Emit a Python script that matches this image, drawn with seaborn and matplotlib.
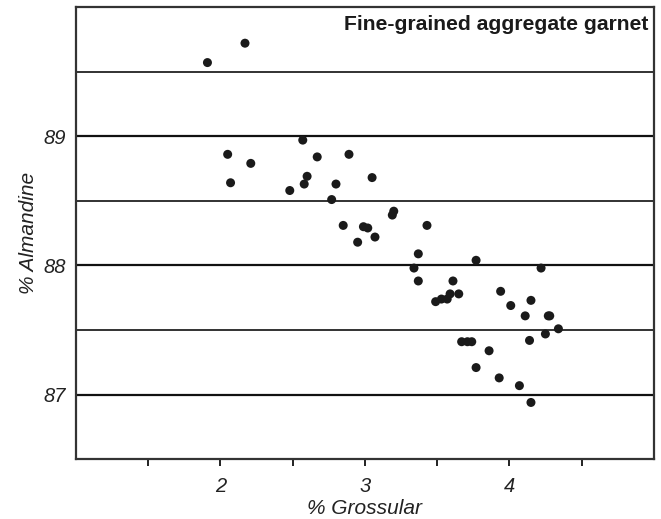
import matplotlib
matplotlib.use("Agg")
import matplotlib.pyplot as plt
from matplotlib.ticker import FixedLocator
import numpy as np
import pandas as pd
import seaborn as sns

# Garnet composition: % grossular vs % almandine
grossular = [
    1.91, 2.17, 2.05, 2.21, 2.07, 2.57, 2.67, 2.89, 2.60, 2.58,
    2.48, 2.80, 3.05, 2.77, 3.19, 3.20, 2.85, 2.99, 3.02, 2.95,
    3.07, 3.43, 3.37, 3.77, 3.34, 3.37, 3.61, 4.22, 3.49, 3.53,
    3.57, 3.59, 3.65, 3.94, 4.01, 4.15, 4.11, 4.27, 4.28, 4.34,
    4.25, 4.14, 3.67, 3.71, 3.74, 3.86, 3.77, 3.93, 4.07, 4.15,
]
almandine = [
    89.57, 89.72, 88.86, 88.79, 88.64, 88.97, 88.84, 88.86, 88.69, 88.63,
    88.58, 88.63, 88.68, 88.51, 88.39, 88.42, 88.31, 88.30, 88.29, 88.18,
    88.22, 88.31, 88.09, 88.04, 87.98, 87.88, 87.88, 87.98, 87.72, 87.74,
    87.74, 87.78, 87.78, 87.80, 87.69, 87.73, 87.61, 87.61, 87.61, 87.51,
    87.47, 87.42, 87.41, 87.41, 87.41, 87.34, 87.21, 87.13, 87.07, 86.94,
]
x_major = [2, 3, 4]
x_minor = [1.5, 2.5, 3.5, 4.5]
y_major = [87, 88, 89]
y_minor = [87.5, 88.5, 89.5]
title = "Fine-grained aggregate garnet"

df = pd.DataFrame({"grossular": grossular, "almandine": almandine})

sns.set_style("white")
plt.rcParams["font.family"] = ["Liberation Sans", "DejaVu Sans"]

fig = plt.figure(figsize=(6.61, 5.19), dpi=100)
ax = fig.add_axes([0.115, 0.115, 0.874, 0.8715])

# horizontal reference lines
for y in y_major:
    ax.axhline(y, color="#111111", lw=1.6, zorder=1)
for y in y_minor:
    ax.axhline(y, color="#222222", lw=1.3, zorder=1)

sns.scatterplot(data=df, x="grossular", y="almandine", ax=ax,
                color="#1a1a1a", s=42, edgecolor="none", zorder=3)

ax.set_xlim(1, 5)
ax.set_ylim(86.5, 90)

ax.xaxis.set_major_locator(FixedLocator(x_major))
ax.xaxis.set_minor_locator(FixedLocator(x_minor))
ax.yaxis.set_major_locator(FixedLocator(y_major))
ax.yaxis.set_minor_locator(FixedLocator([]))
ax.set_xticklabels([str(v) for v in x_major])
ax.set_yticklabels([str(v) for v in y_major])

ax.tick_params(axis="x", which="both", direction="out", length=5, width=1.4,
               color="#222222", bottom=True, pad=8, labelsize=14.5)
ax.tick_params(axis="y", which="both", length=0, pad=7, labelsize=14.5)
for lab in ax.get_xticklabels() + ax.get_yticklabels():
    lab.set_fontstyle("italic")
    lab.set_color("#222222")

for sp in ax.spines.values():
    sp.set_color("#333333")
    sp.set_linewidth(1.6)

ax.set_xlabel("% Grossular", fontsize=15, fontstyle="italic", color="#222222", labelpad=2)
ax.set_ylabel("% Almandine", fontsize=15, fontstyle="italic", color="#222222", labelpad=4)

ax.text(0.99, 0.983, title, transform=ax.transAxes, ha="right", va="top",
        fontsize=15.2, fontweight="bold", color="#1a1a1a")

fig.savefig("out.png", dpi=100)
